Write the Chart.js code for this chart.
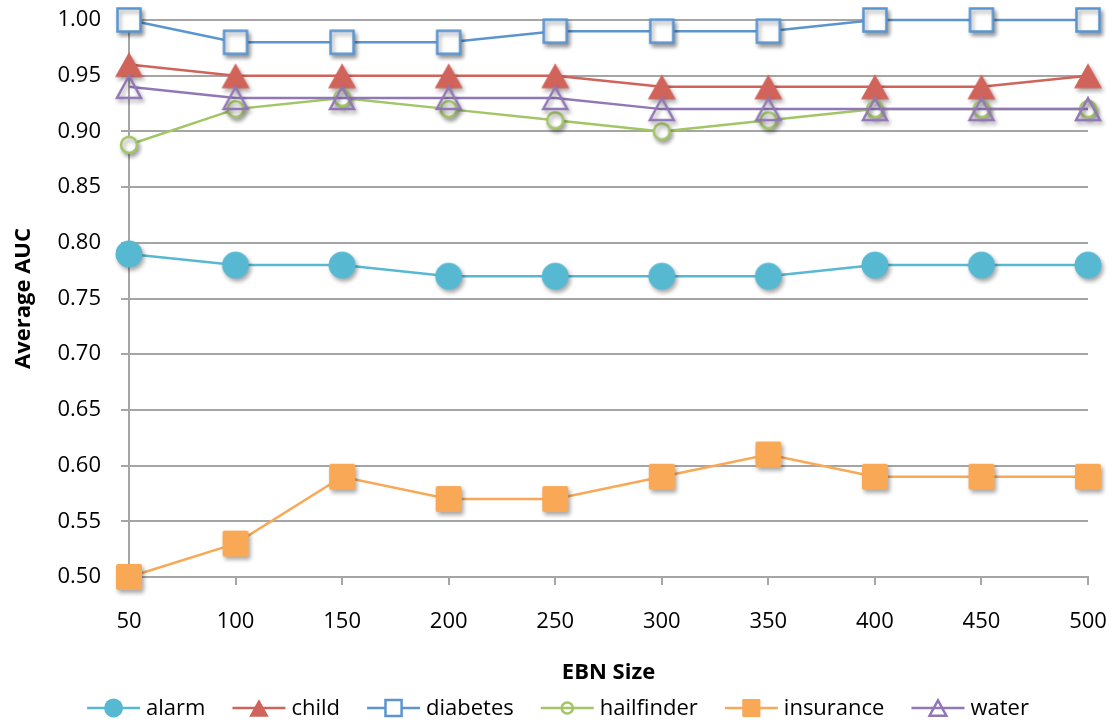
<!DOCTYPE html>
<html><head><meta charset="utf-8">
<script src="https://cdn.jsdelivr.net/npm/chart.js@4/dist/chart.umd.min.js"></script>
<style>html,body{margin:0;padding:0;background:#fff;}#wrap{width:1116px;height:724px;}</style>
</head><body><div id="wrap"><canvas id="c" width="1116" height="724"></canvas></div>
<script>
// ---- data ----
const ebnSizes = ['50','100','150','200','250','300','350','400','450','500'];
const seriesNames = ['alarm','child','diabetes','hailfinder','insurance','water'];
const alarm      = [0.79,0.78,0.78,0.77,0.77,0.77,0.77,0.78,0.78,0.78];
const child      = [0.96,0.95,0.95,0.95,0.95,0.94,0.94,0.94,0.94,0.95];
const diabetes   = [1.00,0.98,0.98,0.98,0.99,0.99,0.99,1.00,1.00,1.00];
const hailfinder = [0.888,0.92,0.93,0.92,0.91,0.90,0.91,0.92,0.92,0.92];
const insurance  = [0.50,0.53,0.59,0.57,0.57,0.59,0.61,0.59,0.59,0.59];
const water      = [0.94,0.93,0.93,0.93,0.93,0.92,0.92,0.92,0.92,0.92];
const yTickMin = 0.5, yTickMax = 1.0, yTickStep = 0.05;

// ---- styles ----
const seriesValues = [alarm, child, diabetes, hailfinder, insurance, water];
const seriesColors = ['#57b8d2','#d0635a','#5b95cf','#a2c565','#f9a856','#9177b5'];
const seriesMarkers = ['circle','triangle','squareOpen','circleOpen','square','triangleOpen'];
const FONT = '"Open Sans", sans-serif';

function drawMarker(ctx, kind, cx, cy, s, color, legend) {
  ctx.save();
  ctx.lineWidth = 2.5;
  ctx.strokeStyle = color;
  ctx.fillStyle = color;
  ctx.beginPath();
  if (kind === 'circle') {
    ctx.arc(cx, cy, 13.5 * s, 0, Math.PI * 2);
    ctx.fill();
  } else if (kind === 'triangle') {
    const w = 14 * s, h = 12.5 * s;
    ctx.moveTo(cx, cy - h); ctx.lineTo(cx + w, cy + h); ctx.lineTo(cx - w, cy + h); ctx.closePath();
    ctx.fill();
  } else if (kind === 'squareOpen') {
    const a = 11.5 * s;
    ctx.rect(cx - a, cy - a, 2 * a, 2 * a);
    ctx.fillStyle = '#fff'; ctx.fill(); ctx.stroke();
  } else if (kind === 'circleOpen') {
    ctx.arc(cx, cy, 8 * s, 0, Math.PI * 2);
    if (!legend) { ctx.fillStyle = '#fff'; ctx.fill(); }
    ctx.stroke();
  } else if (kind === 'square') {
    const a = 13 * s, r = 2 * s;
    if (ctx.roundRect) ctx.roundRect(cx - a, cy - a, 2 * a, 2 * a, r); else ctx.rect(cx - a, cy - a, 2 * a, 2 * a);
    ctx.fill();
  } else if (kind === 'triangleOpen') {
    const w = 12 * s, h = 11 * s;
    ctx.moveTo(cx, cy - h); ctx.lineTo(cx + w, cy + h); ctx.lineTo(cx - w, cy + h); ctx.closePath();
    ctx.stroke();
  }
  ctx.restore();
}

function markerImage(kind, color) {
  const c = document.createElement('canvas');
  c.width = 50; c.height = 50;
  const g = c.getContext('2d');
  g.shadowColor = 'rgba(0,0,0,0.35)';
  g.shadowBlur = 4; g.shadowOffsetX = 2; g.shadowOffsetY = 3;
  drawMarker(g, kind, 25, 25, 1, color, false);
  return c;
}

const legendPlugin = {
  id: 'lineLegend',
  afterDraw(chart) {
    const ctx = chart.ctx;
    ctx.save();
    ctx.font = '22px ' + FONT;
    const symW = 53, gapT = 6, gapI = 27, y = 708;
    const widths = seriesNames.map(n => ctx.measureText(n).width);
    const total = widths.reduce((a, b) => a + b, 0) + seriesNames.length * (symW + gapT) + gapI * (seriesNames.length - 1);
    let x = (chart.width - total) / 2;
    seriesNames.forEach((n, i) => {
      ctx.strokeStyle = seriesColors[i]; ctx.lineWidth = 2.5;
      ctx.beginPath(); ctx.moveTo(x, y); ctx.lineTo(x + symW, y); ctx.stroke();
      drawMarker(ctx, seriesMarkers[i], x + symW / 2, y, 0.7, seriesColors[i], true);
      ctx.fillStyle = '#000'; ctx.textBaseline = 'middle'; ctx.textAlign = 'left';
      ctx.fillText(n, x + symW + gapT, y + 1);
      x += symW + gapT + widths[i] + gapI;
    });
    ctx.restore();
  }
};

function zeroPad(s) { s.paddingTop = 0; s.paddingBottom = 0; s.paddingLeft = 0; s.paddingRight = 0; }

function build() {
  const datasets = seriesNames.map((n, i) => ({
    label: n,
    data: seriesValues[i],
    borderColor: seriesColors[i],
    backgroundColor: seriesColors[i],
    borderWidth: 2.5,
    pointStyle: markerImage(seriesMarkers[i], seriesColors[i]),
    pointRadius: 13,
    pointHoverRadius: 13,
    tension: 0,
    clip: false,
    order: seriesNames.length - 1 - i
  }));
  const gridColor = '#a5a5a5';
  new Chart(document.getElementById('c'), {
    type: 'line',
    data: { labels: ebnSizes, datasets },
    plugins: [legendPlugin],
    options: {
      responsive: false,
      animation: false,
      devicePixelRatio: 1,
      events: [],
      layout: { autoPadding: false, padding: { top: 20, right: 28, left: 0, bottom: 0 } },
      plugins: { legend: { display: false }, tooltip: { enabled: false } },
      scales: {
        x: {
          type: 'category',
          offset: false,
          grid: { drawOnChartArea: false, color: gridColor, lineWidth: 2, tickLength: 8 },
          border: { color: gridColor, width: 2 },
          ticks: { color: '#000', font: { family: FONT, size: 22 }, padding: 24, maxRotation: 0, autoSkip: false },
          title: { display: true, text: 'EBN Size', color: '#000', font: { family: FONT, size: 22, weight: 'bold' }, padding: { top: 0, bottom: 38 } },
          afterFit(s) { s.height = 147; zeroPad(s); }
        },
        y: {
          min: yTickMin, max: yTickMax,
          grid: { color: gridColor, lineWidth: 2, tickLength: 8 },
          border: { color: gridColor, width: 2 },
          ticks: { stepSize: yTickStep, color: '#000', font: { family: FONT, size: 22 }, padding: 20,
                   callback: v => Number(v).toFixed(2) },
          title: { display: true, text: 'Average AUC', color: '#000', font: { family: FONT, size: 22, weight: 'bold' }, padding: { top: 11, bottom: 0 } },
          afterFit(s) { s.width = 129; zeroPad(s); }
        }
      }
    }
  });
}
if (document.fonts && document.fonts.load) {
  Promise.all([document.fonts.load('22px "Open Sans"'), document.fonts.load('bold 22px "Open Sans"')]).then(build, build);
} else build();
</script>
</body></html>
